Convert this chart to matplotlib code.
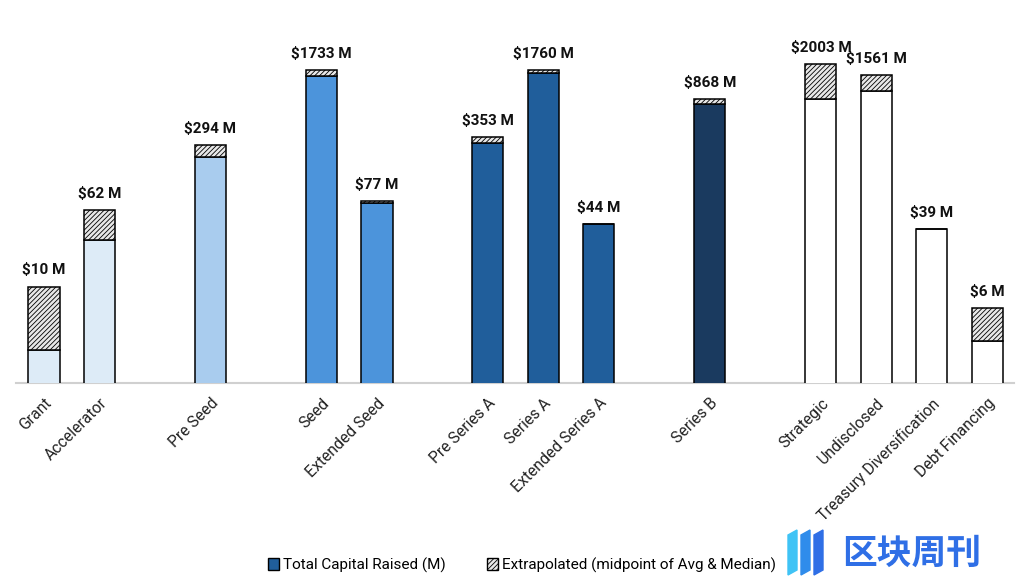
import matplotlib
matplotlib.use("Agg")
import matplotlib.pyplot as plt
from matplotlib.patches import Patch, Polygon

plt.rcParams['font.family'] = ['Roboto', 'DejaVu Sans']
plt.rcParams['hatch.color'] = '#8A8A8A'
plt.rcParams['hatch.linewidth'] = 0.6

# categories and their slot on the x axis (gaps between funding groups)
categories = ["Grant", "Accelerator", "Pre Seed", "Seed", "Extended Seed",
              "Pre Series A", "Series A", "Extended Series A", "Series B",
              "Strategic", "Undisclosed", "Treasury Diversification", "Debt Financing"]
slots = [0, 1, 3, 5, 6, 8, 9, 10, 12, 14, 15, 16, 17]

# total shown above each bar ($M, incl. extrapolated part)
totals = [10, 62, 294, 1733, 77, 353, 1760, 44, 868, 2003, 1561, 39, 6]
# reported capital raised ($M)
raised = [2.2, 30, 220, 1530, 73, 310, 1620, 44, 770, 880, 1070, 39, 2.7]

colors = ["#DDEBF7", "#DDEBF7", "#A9CCEE", "#4C94DB", "#4C94DB",
          "#205E9B", "#205E9B", "#205E9B", "#1A3A5F",
          "white", "white", "white", "white"]

fig = plt.figure(figsize=(10.24, 5.79), dpi=100)
ax = fig.add_axes([16 / 1024, 1 - 383 / 579, 998 / 1024, 383 / 579])

w = 0.56
ax.bar(slots, raised, width=w, color=colors, edgecolor="black", linewidth=1.1, zorder=2)
extra = [t - r for t, r in zip(totals, raised)]
ax.bar(slots, extra, bottom=raised, width=w, color="#E8E8E8", edgecolor="black",
       linewidth=1.1, hatch="///////", zorder=2)

ax.set_yscale("log")
ax.set_ylim(1, 10 ** (383 / 96.5))
ax.set_xlim(-0.505, 17.48)

for s, t in zip(slots, totals):
    ax.annotate("$%d M" % t, xy=(s, t), xytext=(0, 6.5), textcoords="offset points",
                ha="center", va="bottom", fontsize=11, fontweight="bold", color="#111111")

ax.set_xticks(slots)
ax.set_xticklabels(categories, rotation=45, ha="right", rotation_mode="anchor",
                   fontsize=11.3, color="#222222")
ax.tick_params(axis="x", length=0, pad=9)
ax.set_yticks([])
ax.yaxis.set_minor_locator(matplotlib.ticker.NullLocator())
for side in ["top", "right", "left"]:
    ax.spines[side].set_visible(False)
ax.spines["bottom"].set_color("#D0D0D0")
ax.spines["bottom"].set_linewidth(1.5)
ax.spines["bottom"].set_zorder(1)

handles = [Patch(facecolor="#205E9B", edgecolor="black", label="Total Capital Raised (M)"),
           Patch(facecolor="#E8E8E8", edgecolor="black", hatch="///////",
                 label="Extrapolated (midpoint of Avg & Median)")]
fig.legend(handles=handles, loc="center", bbox_to_anchor=(522 / 1024, 1 - 565 / 579),
           ncol=2, frameon=False, fontsize=11, handlelength=0.75, handleheight=0.75,
           handletextpad=0.25, columnspacing=2.7)

# watermark
fig.text(912 / 1024, 1 - 553 / 579, "区块周刊", ha="center", va="center", fontsize=25,
         fontweight="bold", color="#2F6FE6", family=["Noto Sans CJK SC", "DejaVu Sans"])
for x0, c in [(788, "#3FC3F5"), (801, "#2F8CEB"), (814, "#2F6FE6")]:
    pts = [(x0, 575), (x0 + 9, 570), (x0 + 9, 530), (x0, 535)]
    fig.add_artist(Polygon([(px / 1024, 1 - py / 579) for px, py in pts],
                           closed=True, color=c, transform=fig.transFigure))

fig.savefig("out.png", dpi=100)
